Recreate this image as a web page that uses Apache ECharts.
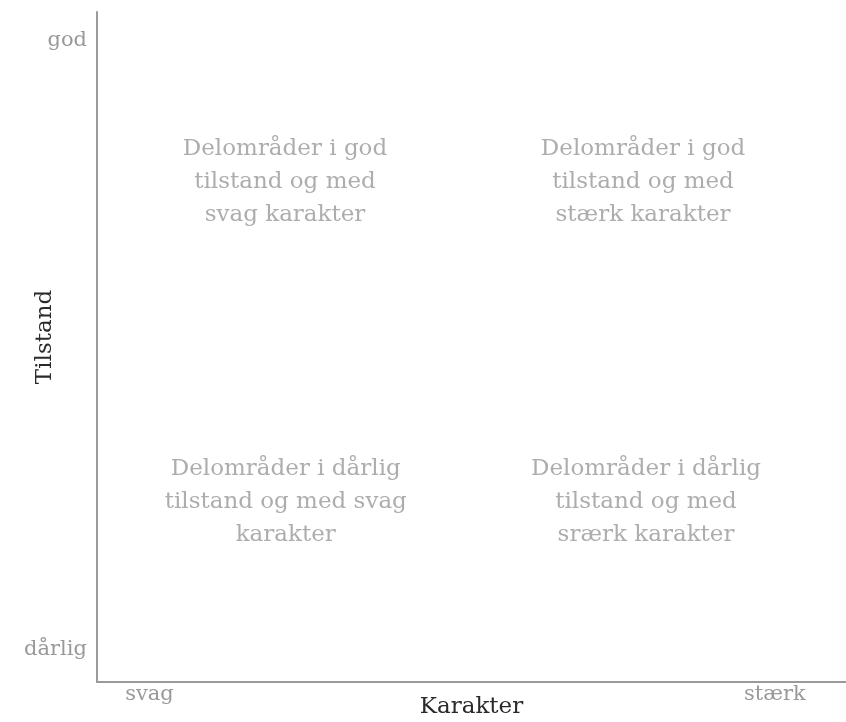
<!DOCTYPE html>
<html>
<head>
<meta charset="utf-8">
<script src="https://cdn.jsdelivr.net/npm/echarts@6/dist/echarts.min.js"></script>
<style>
  html, body { margin: 0; padding: 0; background: #fff; }
  #main { width: 846px; height: 722px; }
</style>
</head>
<body>
<div id="main"></div>
<script>
var xTickValues = [0.07, 0.905];
var xTickLabels = ['svag', 'stærk'];
var yTickValues = [0.048, 0.957];
var yTickLabels = ['dårlig', 'god'];

var quadrantX = [0.251, 0.729, 0.252, 0.733];
var quadrantY = [0.746, 0.746, 0.269, 0.269];
var quadrantText = [
    'Delområder i god\ntilstand og med\nsvag karakter',
    'Delområder i god\ntilstand og med\nstærk karakter',
    'Delområder i dårlig\ntilstand og med svag\nkarakter',
    'Delområder i dårlig\ntilstand og med\nsrærk karakter'
];

var serif = 'DejaVu Serif';

var myChart = echarts.init(document.getElementById('main'));

option = {
    backgroundColor: '#fff',
    animation: false,
    grid: {
        left: 97,
        right: 0,
        top: 12,
        bottom: 40,
        outerBoundsMode: 'none'
    },
    xAxis: {
        type: 'value',
        min: 0,
        max: 1,
        name: 'Karakter',
        nameLocation: 'middle',
        nameGap: 14,
        nameMoveOverlap: false,
        nameTextStyle: {
            fontFamily: serif,
            fontSize: 23,
            color: '#2a2a2a'
        },
        axisLine: { lineStyle: { color: '#9a9a9a', width: 2 } },
        axisTick: { show: false },
        splitLine: { show: false },
        axisLabel: {
            customValues: xTickValues,
            margin: 2,
            fontFamily: serif,
            fontSize: 21,
            color: '#999',
            formatter: function (v) {
                return xTickLabels[xTickValues.indexOf(v)];
            }
        }
    },
    yAxis: {
        type: 'value',
        min: 0,
        max: 1,
        name: 'Tilstand',
        nameLocation: 'middle',
        nameGap: 40,
        nameMoveOverlap: false,
        nameTextStyle: {
            fontFamily: serif,
            fontSize: 23,
            color: '#2a2a2a',
            padding: [0, 0, 0, 20]
        },
        axisLine: { lineStyle: { color: '#9a9a9a', width: 2 } },
        axisTick: { show: false },
        splitLine: { show: false },
        axisLabel: {
            customValues: yTickValues,
            margin: 10,
            fontFamily: serif,
            fontSize: 21,
            color: '#999',
            formatter: function (v) {
                return yTickLabels[yTickValues.indexOf(v)];
            }
        }
    },
    series: [{
        type: 'scatter',
        symbolSize: 0,
        silent: true,
        label: {
            show: true,
            position: 'inside',
            align: 'center',
            verticalAlign: 'middle',
            fontFamily: serif,
            fontSize: 23,
            lineHeight: 33,
            color: '#999',
            formatter: function (p) {
                return quadrantText[p.dataIndex];
            }
        },
        data: quadrantX.map(function (x, i) {
            return [x, quadrantY[i]];
        })
    }]
};

myChart.setOption(option);
</script>
</body>
</html>
